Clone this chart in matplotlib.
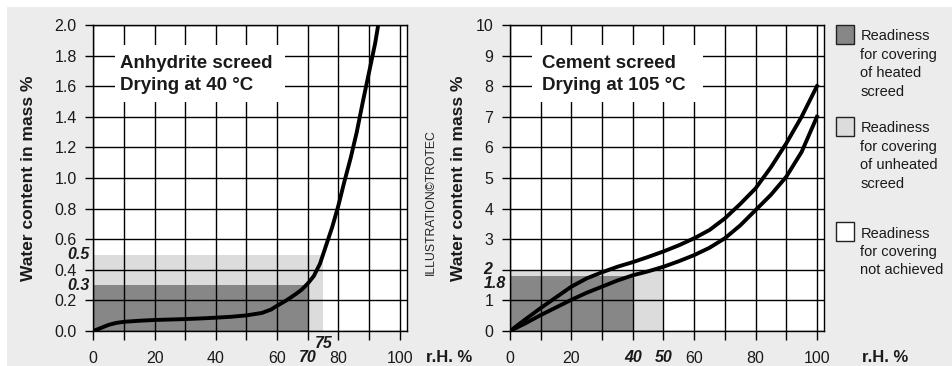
import matplotlib
matplotlib.use("Agg")
import matplotlib.pyplot as plt
from matplotlib.patches import Rectangle

plt.rcParams['font.family'] = ['Liberation Sans', 'DejaVu Sans']

# ---------------- data ----------------
anh_rh = [0, 2.5, 5, 7.5, 10, 15, 20, 25, 30, 35, 40, 45, 50, 55, 58, 60, 63, 66, 68, 70,
          72, 74, 75, 76, 77, 78, 80, 82, 84, 86, 88, 90, 92, 93]
anh_w = [0, 0.02, 0.04, 0.053, 0.06, 0.067, 0.072, 0.075, 0.078, 0.082, 0.087, 0.093, 0.102,
         0.118, 0.14, 0.165, 0.2, 0.24, 0.27, 0.31, 0.36, 0.44, 0.5, 0.56, 0.62, 0.68, 0.82,
         0.98, 1.13, 1.3, 1.5, 1.69, 1.88, 2.0]

cem_rh = [0, 5, 10, 15, 20, 25, 30, 35, 40, 45, 50, 55, 60, 65, 70, 75, 80, 85, 90, 95, 100]
cem_upper = [0, 0.38, 0.75, 1.1, 1.45, 1.72, 1.92, 2.1, 2.25, 2.42, 2.6, 2.8, 3.03, 3.3, 3.68,
             4.15, 4.66, 5.35, 6.13, 7.0, 8.0]
cem_lower = [0, 0.25, 0.52, 0.77, 1.02, 1.25, 1.45, 1.65, 1.82, 1.95, 2.1, 2.28, 2.48, 2.72,
             3.03, 3.45, 3.95, 4.45, 5.04, 5.85, 7.0]

# readiness zones: (rh limit, water content limit)
anh_heated = (70, 0.3)
anh_unheated = (75, 0.5)
cem_heated = (40, 1.8)
cem_unheated = (50, 2.0)

x_ticks = list(range(0, 101, 10))
x_labels = ['0', '', '20', '', '40', '', '60', '', '80', '', '100']
anh_y_ticks = [0.0, 0.2, 0.4, 0.6, 0.8, 1.0, 1.2, 1.4, 1.6, 1.8, 2.0]
cem_y_ticks = list(range(0, 11))

titles = ["Anhydrite screed\nDrying at 40 °C", "Cement screed\nDrying at 105 °C"]
legend_labels = ["Readiness\nfor covering\nof heated\nscreed",
                 "Readiness\nfor covering\nof unheated\nscreed",
                 "Readiness\nfor covering\nnot achieved"]

DARK = '#878787'
LIGHT = '#dcdcdc'
BG = '#ececec'
TXT = '#1a1a1a'

W, H = 952, 366
fig = plt.figure(figsize=(W / 100, H / 100), dpi=100)
fig.patch.set_facecolor('white')
fig.add_artist(Rectangle((7 / W, 0), 1, 1 - 7 / H, transform=fig.transFigure,
                         facecolor=BG, edgecolor='none', zorder=-10))


def fx(x):
    return x / W


def fy(y):
    return 1 - y / H


def make_axes(left_px, right_px):
    ax = fig.add_axes([fx(left_px), fy(331), (right_px - left_px) / W, (331 - 25) / H])
    ax.set_facecolor('white')
    for s in ax.spines.values():
        s.set_color('black')
        s.set_linewidth(1.0)
        s.set_zorder(5)
    ax.set_xlim(0, 102.3)
    ax.tick_params(direction='out', length=6, width=1.0, color='black',
                   labelsize=11.5, pad=6, labelcolor=TXT)
    ax.tick_params(axis='x', length=6.5, pad=8)
    ax.set_xticks(x_ticks)
    ax.set_xticklabels(x_labels)
    ax.grid(True, color='black', linewidth=1.0, zorder=2)
    ax.set_axisbelow(False)
    return ax


# ---------- left chart ----------
ax1 = make_axes(93.3, 406.7)
ax1.set_ylim(0, 2.0)
ax1.set_yticks(anh_y_ticks)
ax1.set_yticklabels([f"{v:.1f}" for v in anh_y_ticks])
ax1.add_patch(Rectangle((0, 0), anh_unheated[0], anh_unheated[1], facecolor=LIGHT,
                        edgecolor='none', zorder=1))
ax1.add_patch(Rectangle((0, 0), anh_heated[0], anh_heated[1], facecolor=DARK,
                        edgecolor='none', zorder=1.1))
ax1.add_patch(Rectangle((7.1, 1.497), 55.4, 0.372, facecolor='white', edgecolor='none', zorder=3))
ax1.plot(anh_rh, anh_w, color='black', lw=2.8, zorder=4, solid_capstyle='butt',
         solid_joinstyle='round', clip_on=True)

# ---------- right chart ----------
ax2 = make_axes(510, 824)
ax2.set_ylim(0, 10)
ax2.set_yticks(cem_y_ticks)
ax2.set_yticklabels([str(v) if v != 2 else '' for v in cem_y_ticks])
lbls = list(x_labels)
lbls[4] = ''
ax2.set_xticklabels(lbls)
ax2.add_patch(Rectangle((0, 0), cem_unheated[0], cem_unheated[1], facecolor=LIGHT,
                        edgecolor='none', zorder=1))
ax2.add_patch(Rectangle((0, 0), cem_heated[0], cem_heated[1], facecolor=DARK,
                        edgecolor='none', zorder=1.1))
ax2.add_patch(Rectangle((7.2, 7.48), 55.8, 1.87, facecolor='white', edgecolor='none', zorder=3))
ax2.plot(cem_rh, cem_upper, color='black', lw=2.8, zorder=4, solid_joinstyle='round')
ax2.plot(cem_rh, cem_lower, color='black', lw=2.8, zorder=4, solid_joinstyle='round')

# ---------- titles in boxes ----------
for t, x0 in zip(titles, [120, 541.7]):
    l1, l2 = t.split('\n')
    fig.text(fx(x0), fy(68), l1, fontsize=13.5, fontweight='bold', va='baseline', ha='left',
             color=TXT)
    fig.text(fx(x0), fy(90.5), l2, fontsize=13.5, fontweight='bold', va='baseline', ha='left',
             color=TXT)

# ---------- bold italic markers ----------
bi = dict(fontsize=11.5, fontweight='bold', fontstyle='italic', va='center', color=TXT)
fig.text(fx(89.5), fy(254.5), f"{anh_unheated[1]}", ha='right', **bi)
fig.text(fx(89.5), fy(285), f"{anh_heated[1]}", ha='right', **bi)
fig.text(fx(93.3 + 70 * 3.067), fy(358), f"{anh_heated[0]}", ha='center', **bi)
fig.text(fx(93.3 + 75 * 3.067), fy(344), f"{anh_unheated[0]}", ha='center', **bi)

fig.text(fx(492), fy(269.5), f"{int(cem_unheated[1])}", ha='right', **bi)
fig.text(fx(506), fy(283), f"{cem_heated[1]}", ha='right', **bi)
fig.text(fx(510 + 40 * 3.07), fy(358), f"{cem_heated[0]}", ha='center', **bi)
fig.text(fx(510 + 50 * 3.07), fy(358), f"{cem_unheated[0]}", ha='center', **bi)

# ---------- axis labels ----------
ylab = dict(fontsize=12.5, fontweight='bold', rotation=90, ha='center', va='center', color=TXT)
fig.text(fx(28.5), fy(178), "Water content in mass %", **ylab)
fig.text(fx(458.5), fy(178), "Water content in mass %", **ylab)
fig.text(fx(449), fy(357), "r.H. %", fontsize=12, fontweight='bold', ha='center', va='center',
         color=TXT)
fig.text(fx(885), fy(357), "r.H. %", fontsize=12, fontweight='bold', ha='center', va='center',
         color=TXT)
fig.text(fx(430.5), fy(202), "ILLUSTRATION©TROTEC", fontsize=8.8, rotation=90,
         ha='center', va='center', color='#222222')

# ---------- legend ----------
for lab, col, ytop in zip(legend_labels, [DARK, LIGHT, 'white'], [25, 117, 222]):
    fig.add_artist(Rectangle((fx(835.5), fy(ytop + 18.5)), 18.5 / W, 18.5 / H,
                             transform=fig.transFigure, facecolor=col,
                             edgecolor='#222222', linewidth=1.0))
    for i, line in enumerate(lab.split('\n')):
        fig.text(fx(860.5), fy(ytop + 15.5 + 18.4 * i), line, fontsize=10.5,
                 va='baseline', ha='left', color=TXT)

fig.savefig('out.png', dpi=100, facecolor=fig.get_facecolor())
